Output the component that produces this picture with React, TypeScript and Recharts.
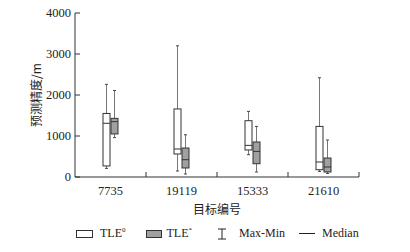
import { ComposedChart, Bar, XAxis, YAxis } from "recharts";

const categories = ["7735", "19119", "15333", "21610"];

// TLE0 (white boxes)
const tle0Min = [210, 146, 544, 137];
const tle0Q1 = [270, 561, 659, 178];
const tle0Median = [1310, 683, 771, 366];
const tle0Q3 = [1550, 1660, 1373, 1234];
const tle0Max = [2260, 3200, 1600, 2420];

// TLE* (grey boxes)
const tleStarMin = [960, 73, 122, 88];
const tleStarQ1 = [1050, 220, 324, 122];
const tleStarMedian = [1350, 422, 624, 244];
const tleStarQ3 = [1430, 707, 854, 463];
const tleStarMax = [2110, 1030, 1234, 902];

const yTicks = [0, 1000, 2000, 3000, 4000];

const W = 410;
const H = 252;
const M = { top: 13, right: 51, bottom: 0, left: 0 };
const Y_AXIS_W = 75;
const X_AXIS_H = 40;
const BAND = (W - M.right - Y_AXIS_W) / categories.length;

const FONT = "'Liberation Serif', 'Times New Roman', Times, serif";
const CJK = "'Noto Sans CJK SC', sans-serif";
const TEXT = "#222";

const data = categories.map((c, i) => ({
  name: c,
  w: { min: tle0Min[i], q1: tle0Q1[i], med: tle0Median[i], q3: tle0Q3[i], max: tle0Max[i] },
  g: { min: tleStarMin[i], q1: tleStarQ1[i], med: tleStarMedian[i], q3: tleStarQ3[i], max: tleStarMax[i] },
}));

function makeBox(key: "w" | "g", fill: string) {
  return (props: any) => {
    const { x, y, width, height, payload } = props;
    const s = payload[key];
    // y/height span max..min, map stats linearly inside it
    const py = (v: number) => y + (height * (s.max - v)) / (s.max - s.min);
    const cx = x + width / 2;
    const cap = 1.5;
    return (
      <g>
        <line x1={cx} x2={cx} y1={py(s.max)} y2={py(s.q3)} stroke="#777" strokeWidth={1} />
        <line x1={cx} x2={cx} y1={py(s.q1)} y2={py(s.min)} stroke="#777" strokeWidth={1} />
        <line x1={cx - cap} x2={cx + cap} y1={py(s.max)} y2={py(s.max)} stroke="#444" strokeWidth={1} />
        <line x1={cx - cap} x2={cx + cap} y1={py(s.min)} y2={py(s.min)} stroke="#444" strokeWidth={1} />
        <rect
          x={x}
          y={py(s.q3)}
          width={width}
          height={py(s.q1) - py(s.q3)}
          fill={fill}
          stroke="#333"
          strokeWidth={1}
        />
        <line x1={x} x2={x + width} y1={py(s.med)} y2={py(s.med)} stroke="#333" strokeWidth={1} />
      </g>
    );
  };
}

// inward-pointing ticks; x is the axis line since tickSize/tickMargin are 0
const YTick = (props: any) => {
  const { x, y, payload } = props;
  return (
    <g>
      <line x1={x} x2={x + 5} y1={y} y2={y} stroke="#333" />
      <text x={x - 4} y={y} dy={4} textAnchor="end" fill={TEXT} fontFamily={FONT} fontSize={12.5}>
        {payload.value}
      </text>
    </g>
  );
};

const XTick = (props: any) => {
  const { x, y, payload } = props;
  return (
    <g>
      <line x1={x + BAND / 2} x2={x + BAND / 2} y1={y} y2={y - 5} stroke="#333" />
      <text x={x} y={y} dy={18} textAnchor="middle" fill={TEXT} fontFamily={FONT} fontSize={12.5}>
        {payload.value}
      </text>
    </g>
  );
};

const YTitle = (props: any) => {
  const { viewBox } = props;
  const cx = 35;
  const cy = viewBox.y + viewBox.height / 2;
  return (
    <text
      x={cx}
      y={cy}
      transform={`rotate(-90 ${cx} ${cy})`}
      textAnchor="middle"
      dominantBaseline="central"
      fill={TEXT}
      fontFamily={CJK}
      fontSize={12}
    >
      预测精度/m
    </text>
  );
};

const XTitle = (props: any) => {
  const { viewBox } = props;
  return (
    <text
      x={viewBox.x + viewBox.width / 2}
      y={viewBox.y + 31}
      textAnchor="middle"
      dominantBaseline="central"
      fill={TEXT}
      fontFamily={CJK}
      fontSize={12}
    >
      目标编号
    </text>
  );
};

const legendItem: React.CSSProperties = { display: "flex", alignItems: "center" };

function Legend() {
  return (
    <div
      style={{
        position: "absolute",
        left: 76,
        top: 226,
        display: "flex",
        alignItems: "center",
        fontFamily: FONT,
        fontSize: 12,
        color: TEXT,
        whiteSpace: "nowrap",
      }}
    >
      <div style={legendItem}>
        <span style={{ display: "inline-block", width: 15, height: 6, border: "1px solid #333", background: "#fff" }} />
        <span style={{ marginLeft: 7 }}>
          TLE<sup style={{ fontSize: 7 }}>0</sup>
        </span>
      </div>
      <div style={{ ...legendItem, marginLeft: 20 }}>
        <span style={{ display: "inline-block", width: 14, height: 6, border: "1px solid #333", background: "#a0a0a0" }} />
        <span style={{ marginLeft: 5 }}>
          TLE<sup style={{ fontSize: 7 }}>*</sup>
        </span>
      </div>
      <div style={{ ...legendItem, marginLeft: 25 }}>
        <svg width={10} height={12}>
          <line x1={5} x2={5} y1={1} y2={11} stroke="#222" />
          <line x1={1} x2={9} y1={1} y2={1} stroke="#222" />
          <line x1={1} x2={9} y1={11} y2={11} stroke="#222" />
        </svg>
        <span style={{ marginLeft: 12 }}>Max-Min</span>
      </div>
      <div style={{ ...legendItem, marginLeft: 14 }}>
        <span style={{ display: "inline-block", width: 16, height: 1, background: "#222" }} />
        <span style={{ marginLeft: 7 }}>Median</span>
      </div>
    </div>
  );
}

export default function App() {
  return (
    <div style={{ position: "absolute", left: 0, top: 0, width: W, height: H, background: "#fff" }}>
      <ComposedChart
        width={W}
        height={13 + 164 + X_AXIS_H}
        data={data}
        margin={M}
        barSize={7}
        barGap={1}
      >
        <XAxis
          dataKey="name"
          stroke="#333"
          tickLine={false}
          tickSize={0}
          tickMargin={0}
          tick={<XTick />}
          height={X_AXIS_H}
          interval={0}
          label={<XTitle />}
        />
        <YAxis
          domain={[0, 4000]}
          ticks={yTicks}
          stroke="#333"
          tickLine={false}
          tickSize={0}
          tickMargin={0}
          tick={<YTick />}
          width={Y_AXIS_W}
          label={<YTitle />}
        />
        <Bar
          dataKey={(d: any) => [d.w.min, d.w.max]}
          shape={makeBox("w", "#fff")}
          isAnimationActive={false}
        />
        <Bar
          dataKey={(d: any) => [d.g.min, d.g.max]}
          shape={makeBox("g", "#a0a0a0")}
          isAnimationActive={false}
        />
      </ComposedChart>
      <Legend />
    </div>
  );
}
